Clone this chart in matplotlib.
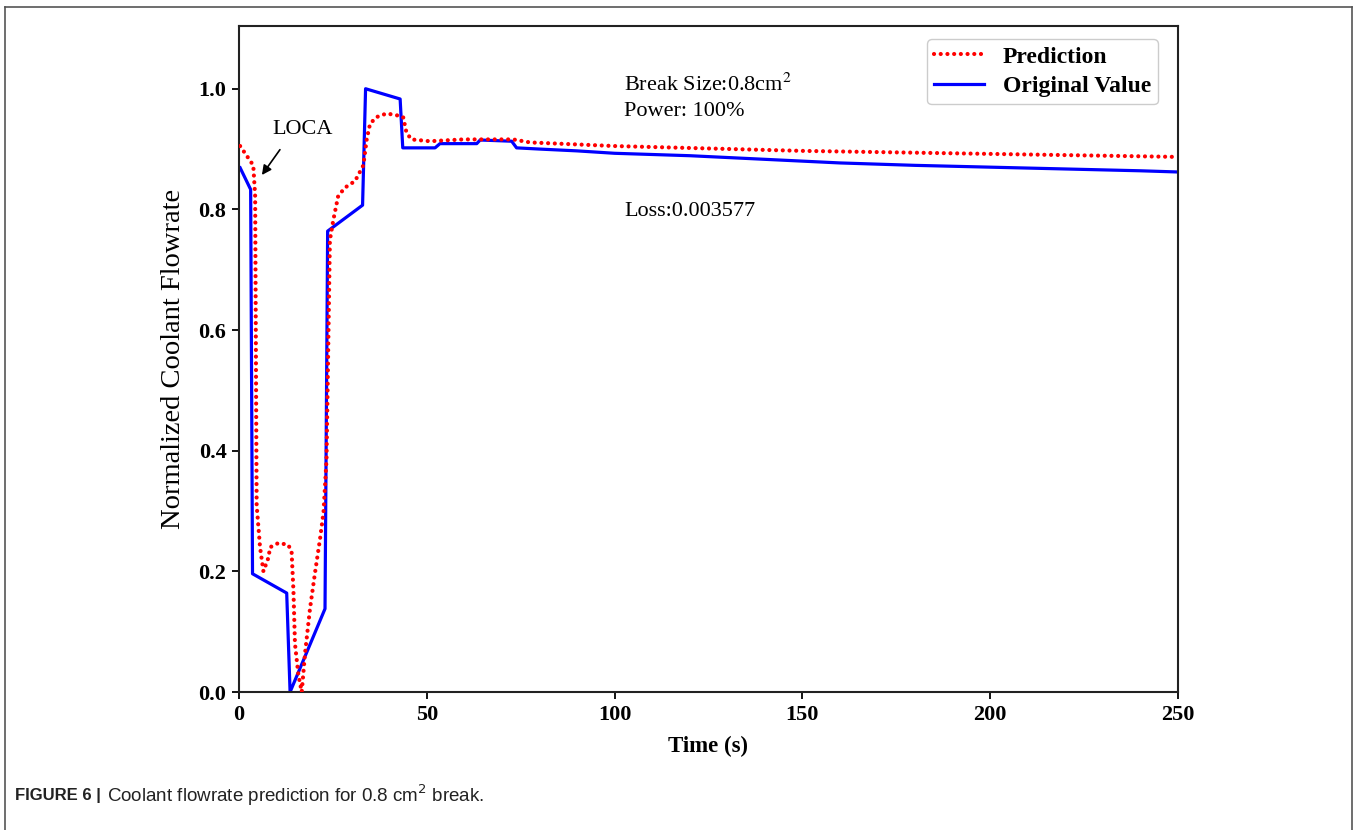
import matplotlib
matplotlib.use("Agg")
import matplotlib.pyplot as plt
from matplotlib.lines import Line2D

# ---- data ----
t_orig = [0.3, 3.1, 3.6, 12.7, 13.6, 22.9, 23.6, 32.9, 33.7, 42.9, 43.6, 52.2, 53.5,
          63.3, 64.2, 72.6, 73.9, 80, 90, 100, 120, 140, 160, 180, 200, 220, 240, 250]
v_orig = [0.869, 0.833, 0.196, 0.164, 0.0, 0.138, 0.764, 0.807, 1.0, 0.983, 0.902, 0.902, 0.909,
          0.909, 0.915, 0.913, 0.902, 0.900, 0.897, 0.893, 0.889, 0.883, 0.877, 0.873, 0.870,
          0.867, 0.864, 0.862]

t_pred = [0.3, 3.8, 4.3, 4.7, 5.6, 6.5, 7.8, 8.3, 10.5, 13.1, 14.0, 14.5, 14.9, 15.8, 16.7,
          17.6, 18.9, 20.2, 21.6, 22.5, 23.3, 24.2, 25.1, 26.4, 28.2, 30.9, 33.1, 34.0, 34.9,
          36.6, 39.3, 42.0, 43.7, 44.6, 45.9, 50.8, 59.7, 73.0, 77.5, 100, 150, 200, 250]
v_pred = [0.905, 0.873, 0.822, 0.31, 0.24, 0.20, 0.222, 0.24, 0.247, 0.244, 0.233, 0.167, 0.08,
          0.029, 0.0, 0.065, 0.138, 0.196, 0.255, 0.298, 0.385, 0.749, 0.782, 0.822, 0.836,
          0.847, 0.873, 0.916, 0.942, 0.953, 0.959, 0.956, 0.953, 0.927, 0.916, 0.913, 0.916,
          0.916, 0.911, 0.905, 0.897, 0.892, 0.887]

x_ticks = [0, 50, 100, 150, 200, 250]
y_ticks = [0.0, 0.2, 0.4, 0.6, 0.8, 1.0]

serif = ["Liberation Serif", "DejaVu Serif"]
sans = ["Liberation Sans", "DejaVu Sans"]

fig = plt.figure(figsize=(13.6, 8.3), dpi=100)
ax = fig.add_axes([239/1360, 1-692/830, (1178-239)/1360, (692-26)/830])

ax.plot(t_pred, v_pred, color="#ff0000", lw=3.0, linestyle=(0, (0.01, 1.6)),
        dash_capstyle="round", label="Prediction", zorder=3)
ax.plot(t_orig, v_orig, color="#0000ff", lw=2.3, label="Original Value", zorder=2)

ax.set_xlim(0, 250)
ax.set_ylim(0, 1.104)
ax.set_xticks(x_ticks)
ax.set_yticks(y_ticks)
ax.set_xticklabels([str(v) for v in x_ticks], fontfamily=serif, fontweight="bold", fontsize=16)
ax.set_yticklabels([f"{v:.1f}" for v in y_ticks], fontfamily=serif, fontweight="bold", fontsize=16)
ax.tick_params(direction="out", length=5, width=1.3, pad=4)
for s in ax.spines.values():
    s.set_linewidth(1.5)
    s.set_color("#222222")

ax.set_xlabel("Time (s)", fontfamily=serif, fontweight="bold", fontsize=16.5, labelpad=8)
ax.set_ylabel("Normalized Coolant Flowrate", fontfamily=serif, fontsize=20.5, labelpad=9)

leg = ax.legend(loc="upper right", bbox_to_anchor=(0.9787, 0.9805), borderaxespad=0.0,
                prop={"family": serif, "weight": "bold", "size": 17},
                handlelength=2.1, handletextpad=0.8, labelspacing=0.35,
                borderpad=0.3, fancybox=True, framealpha=1.0)
leg.get_frame().set_edgecolor("#cccccc")

ax.text(102.5, 1.007, "Break Size:0.8cm$^2$", fontfamily=serif, fontsize=16, va="center",
        math_fontfamily="stix")
ax.text(102.5, 0.962, "Power: 100%", fontfamily=serif, fontsize=16, va="center")
ax.text(102.5, 0.796, "Loss:0.003577", fontfamily=serif, fontsize=16, va="center")

ax.text(17.0, 0.932, "LOCA", fontfamily=serif, fontsize=16, ha="center", va="center")
ax.annotate("", xy=(6.1, 0.857), xytext=(10.9, 0.899),
            arrowprops=dict(arrowstyle="-|>", color="black", lw=1.2, shrinkA=0, shrinkB=0,
                            mutation_scale=14))

# outer frame
for xs, ys in [([5/1360, 5/1360], [0, 1-7/830]),
               ([5/1360, 1352/1360], [1-7/830, 1-7/830]),
               ([1352/1360, 1352/1360], [1-7/830, 0])]:
    fig.add_artist(Line2D(xs, ys, transform=fig.transFigure, color="#555555", lw=1.2))

fig.text(15/1360, 1-795/830, "FIGURE 6 |", fontfamily=sans, fontweight="bold", fontsize=12,
         color="#222222", va="center")
fig.text(107/1360, 1-795/830, "Coolant flowrate prediction for 0.8 cm$^2$ break.", fontfamily=sans,
         fontsize=13.5, color="#222222", va="center", math_fontfamily="dejavusans")

fig.savefig("out.png", dpi=100)
